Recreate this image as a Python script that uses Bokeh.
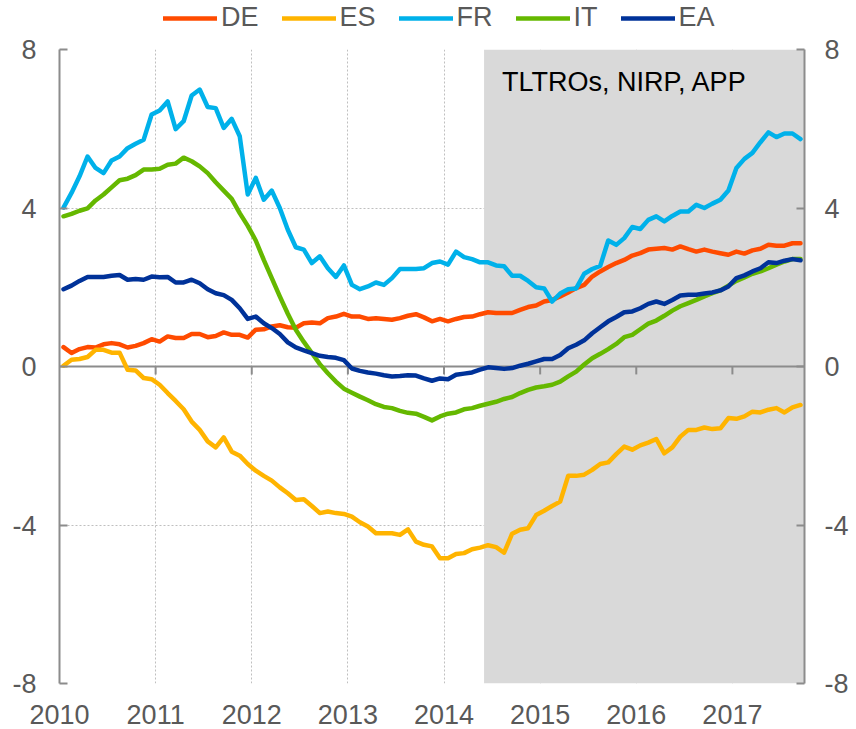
from bokeh.plotting import figure
from bokeh.layouts import column
from bokeh.models import Range1d, FixedTicker, LinearAxis, Legend, LegendItem, Label
from bokeh.embed import file_html
from bokeh.resources import INLINE

# ---------------- data ----------------
start_year = 2010
n_months = 93  # Jan 2010 .. Sep 2017
shade_start = 2014 + 5 / 12  # June 2014
shade_label = "TLTROs, NIRP, APP"
year_ticks = [2010, 2011, 2012, 2013, 2014, 2015, 2016, 2017]
y_ticks = [-8, -4, 0, 4, 8]
y_tick_labels = ["-8", "-4", "0", "4", "8"]
series_names = ["DE", "ES", "FR", "IT", "EA"]

DE = [0.49, 0.34, 0.44, 0.49, 0.48, 0.56, 0.59, 0.56, 0.48, 0.52,
      0.59, 0.69, 0.63, 0.76, 0.72, 0.72, 0.82, 0.82, 0.74, 0.77,
      0.86, 0.80, 0.80, 0.73, 0.93, 0.94, 1.01, 1.04, 0.99, 0.98,
      1.09, 1.11, 1.09, 1.22, 1.26, 1.33, 1.26, 1.26, 1.20, 1.22,
      1.20, 1.18, 1.22, 1.28, 1.32, 1.24, 1.14, 1.20, 1.14, 1.20,
      1.25, 1.26, 1.32, 1.37, 1.35, 1.35, 1.35, 1.43, 1.50, 1.54,
      1.64, 1.68, 1.77, 1.87, 1.98, 2.06, 2.27, 2.40, 2.51, 2.61,
      2.69, 2.80, 2.86, 2.95, 2.97, 2.99, 2.95, 3.03, 2.96, 2.90,
      2.95, 2.90, 2.86, 2.82, 2.90, 2.85, 2.93, 2.97, 3.07, 3.05,
      3.05, 3.11, 3.11]

ES = [0.02, 0.17, 0.19, 0.24, 0.42, 0.42, 0.35, 0.35, -0.08, -0.10,
      -0.29, -0.32, -0.46, -0.67, -0.87, -1.08, -1.39, -1.60, -1.89, -2.04,
      -1.79, -2.15, -2.25, -2.46, -2.63, -2.76, -2.88, -3.05, -3.20, -3.37,
      -3.35, -3.52, -3.70, -3.66, -3.70, -3.72, -3.79, -3.93, -4.04, -4.21,
      -4.21, -4.21, -4.25, -4.11, -4.42, -4.50, -4.54, -4.84, -4.84, -4.73,
      -4.71, -4.61, -4.57, -4.51, -4.56, -4.70, -4.22, -4.12, -4.08, -3.75,
      -3.64, -3.52, -3.41, -2.76, -2.76, -2.73, -2.61, -2.46, -2.42, -2.21,
      -2.02, -2.10, -1.99, -1.92, -1.83, -2.19, -2.04, -1.77, -1.60, -1.60,
      -1.54, -1.58, -1.56, -1.30, -1.32, -1.26, -1.14, -1.16, -1.09, -1.05,
      -1.16, -1.03, -0.97]

FR = [4.01, 4.38, 4.80, 5.30, 5.01, 4.88, 5.20, 5.30, 5.51, 5.62,
      5.72, 6.36, 6.46, 6.69, 5.99, 6.19, 6.84, 6.99, 6.55, 6.52,
      6.02, 6.25, 5.81, 4.34, 4.76, 4.21, 4.44, 4.00, 3.45, 3.01,
      2.95, 2.61, 2.78, 2.48, 2.26, 2.55, 2.06, 1.95, 2.02, 2.12,
      2.06, 2.23, 2.46, 2.46, 2.46, 2.48, 2.61, 2.65, 2.57, 2.90,
      2.76, 2.71, 2.63, 2.63, 2.55, 2.53, 2.29, 2.29, 2.16, 2.00,
      1.97, 1.64, 1.84, 1.95, 1.97, 2.34, 2.46, 2.54, 3.18, 3.07,
      3.24, 3.52, 3.47, 3.70, 3.79, 3.66, 3.80, 3.91, 3.91, 4.08,
      4.00, 4.11, 4.21, 4.44, 5.01, 5.24, 5.39, 5.66, 5.91, 5.79,
      5.88, 5.88, 5.74]

IT = [3.79, 3.85, 3.93, 3.99, 4.19, 4.34, 4.52, 4.70, 4.74, 4.83,
      4.97, 4.97, 4.99, 5.09, 5.12, 5.27, 5.18, 5.05, 4.88, 4.65,
      4.44, 4.23, 3.87, 3.55, 3.18, 2.69, 2.23, 1.77, 1.33, 0.93,
      0.62, 0.34, 0.06, -0.17, -0.38, -0.56, -0.66, -0.76, -0.85, -0.95,
      -1.02, -1.05, -1.12, -1.17, -1.19, -1.27, -1.36, -1.26, -1.19, -1.16,
      -1.08, -1.05, -0.99, -0.94, -0.89, -0.82, -0.77, -0.67, -0.59, -0.53,
      -0.50, -0.46, -0.38, -0.25, -0.13, 0.05, 0.21, 0.32, 0.44, 0.57,
      0.74, 0.80, 0.94, 1.08, 1.16, 1.28, 1.41, 1.52, 1.60, 1.68,
      1.77, 1.85, 1.92, 2.04, 2.16, 2.25, 2.34, 2.40, 2.48, 2.57,
      2.65, 2.71, 2.71]

EA = [1.95, 2.04, 2.16, 2.26, 2.26, 2.26, 2.29, 2.31, 2.19, 2.21,
      2.19, 2.27, 2.25, 2.26, 2.12, 2.12, 2.19, 2.10, 1.95, 1.85,
      1.80, 1.68, 1.47, 1.20, 1.26, 1.09, 0.97, 0.82, 0.61, 0.48,
      0.41, 0.34, 0.27, 0.24, 0.22, 0.16, -0.05, -0.11, -0.15, -0.18,
      -0.22, -0.25, -0.24, -0.22, -0.23, -0.30, -0.36, -0.30, -0.32, -0.21,
      -0.18, -0.15, -0.08, -0.02, -0.04, -0.06, -0.04, 0.02, 0.07, 0.13,
      0.19, 0.19, 0.29, 0.46, 0.55, 0.66, 0.84, 0.99, 1.14, 1.25,
      1.37, 1.39, 1.47, 1.58, 1.64, 1.58, 1.68, 1.79, 1.81, 1.81,
      1.84, 1.87, 1.92, 2.02, 2.23, 2.30, 2.40, 2.48, 2.63, 2.61,
      2.67, 2.71, 2.68]

# ---------------- styling ----------------
FONT = "Liberation Sans"
FS = "27px"
colors = {"DE": "#FF4B00", "ES": "#FFB400", "FR": "#00B1EA", "IT": "#65B800", "EA": "#003299"}
axis_gray = "#8C8C8C"
label_gray = "#595959"
tick_len = 0.2
LW = 4.5

x = [start_year + (m + 0.5) / 12 for m in range(n_months)]
x_end = start_year + n_months / 12
y_min, y_max = y_ticks[0], y_ticks[-1]
data = {"DE": DE, "ES": ES, "FR": FR, "IT": IT, "EA": EA}

# ---------------- main chart ----------------
p = figure(frame_width=745, frame_height=634,
           x_range=Range1d(start_year, x_end), y_range=Range1d(y_min, y_max),
           output_backend="svg", toolbar_location=None,
           min_border_left=59, min_border_right=44,
           min_border_top=16, min_border_bottom=45,
           outline_line_color=None, background_fill_color="white")

# shaded policy period
p.quad(left=[shade_start], right=[x_end], bottom=[y_min], top=[y_max],
       fill_color="#D9D9D9", line_color=None)

# zero line acting as the horizontal axis, with ticks below it
p.hspan(y=[0], line_color=axis_gray, line_width=2)
inner_years = year_ticks[1:]
p.segment(x0=inner_years, y0=[0] * len(inner_years), x1=inner_years,
          y1=[-tick_len] * len(inner_years), line_color=axis_gray, line_width=2)

for name in series_names:
    p.line(x, data[name], line_color=colors[name], line_width=LW,
           line_join="round", line_cap="round")

# grids
p.xgrid.ticker = FixedTicker(ticks=year_ticks)
p.ygrid.ticker = FixedTicker(ticks=y_ticks)
for g in (p.xgrid, p.ygrid):
    g.grid_line_color = "#BFBFBF"
    g.grid_line_dash = "2 2"
    g.grid_line_width = 1

# bottom axis: labels only
xa = p.xaxis[0]
xa.ticker = FixedTicker(ticks=year_ticks)
xa.axis_line_color = None
xa.major_tick_line_color = None
xa.minor_tick_line_color = None
xa.major_label_text_font = FONT
xa.major_label_text_font_size = FS
xa.major_label_text_color = label_gray
xa.major_label_standoff = 15

def style_y(ax, standoff):
    ax.ticker = FixedTicker(ticks=y_ticks)
    ax.major_label_overrides = {t: s for t, s in zip(y_ticks, y_tick_labels)}
    ax.axis_line_color = axis_gray
    ax.axis_line_width = 2
    ax.major_tick_line_color = axis_gray
    ax.major_tick_line_width = 2
    ax.major_tick_in = 8
    ax.major_tick_out = 0
    ax.minor_tick_line_color = None
    ax.major_label_text_font = FONT
    ax.major_label_text_font_size = FS
    ax.major_label_text_color = label_gray
    ax.major_label_standoff = standoff

style_y(p.yaxis[0], 23)
ra = LinearAxis()
style_y(ra, 20)
p.add_layout(ra, "right")

# annotation text
p.add_layout(Label(x=shade_start, y=y_max, x_offset=18, y_offset=-17, text=shade_label,
                   text_font=FONT, text_font_size=FS, text_color="#000000",
                   text_baseline="top"))

# ---------------- legend strip ----------------
# same series drawn in a strip whose ranges keep them out of view; only the legend shows
lg = figure(width=848, height=33, x_range=Range1d(0, 1), y_range=Range1d(0, 1),
            x_axis_type=None, y_axis_type=None, output_backend="svg",
            toolbar_location=None, outline_line_color=None,
            min_border_left=0, min_border_right=0, min_border_top=0, min_border_bottom=0)
lg.grid.visible = False
items = []
for name in series_names:
    r = lg.line(x, data[name], line_color=colors[name], line_width=LW, line_cap="round")
    items.append(LegendItem(label=name, renderers=[r]))
legend = Legend(items=items, orientation="horizontal", location=(104, 0),
                label_text_font=FONT, label_text_font_size=FS,
                label_text_color=label_gray, glyph_width=54, glyph_height=20,
                label_standoff=4, spacing=23, padding=0, margin=0,
                border_line_color=None, background_fill_alpha=0)
lg.add_layout(legend)

layout = column(lg, p, spacing=0)
open("out.html", "w").write(file_html(layout, INLINE))
